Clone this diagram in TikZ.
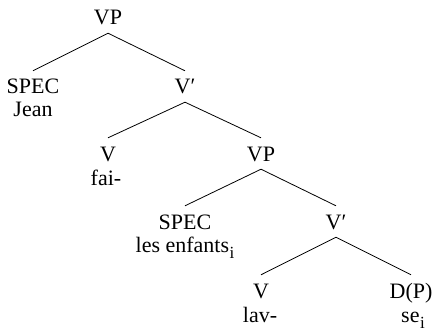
\documentclass[tikz,border=0pt]{standalone}
\usepackage{fontspec}
\setmainfont{Liberation Serif}
\newcommand{\subidx}{\kern0.5pt\raisebox{-6pt}{\fontsize{17}{17}\selectfont i}}
\begin{document}
\begin{tikzpicture}[x=1pt,y=-1pt,
  cat/.style={anchor=base, inner xsep=1pt, inner ysep=8pt, text height=15pt, text depth=0pt, font=\fontsize{22}{24}\selectfont},
  word/.style={anchor=base, inner sep=0pt, font=\fontsize{22}{24}\selectfont},
  branch/.style={line width=0.8pt}]
\useasboundingbox (0,0) rectangle (435,331);
% categories
\node[cat] (vp0)   at (108,25)  {VP};
\node[cat] (spec1) at (33,94)   {SPEC};
\node[cat] (vb1)   at (185,94)  {V\char"2032};
\node[cat] (v1)    at (108,161) {V};
\node[cat] (vp2)   at (261,161) {VP};
\node[cat] (spec2) at (185,229) {SPEC};
\node[cat] (vb2)   at (336,229) {V\char"2032};
\node[cat] (v2)    at (261,298) {V};
\node[cat] (dp)    at (411,298) {D(P)};
% words
\node[word] (jean) at (33,117)  {Jean};
\node[word] (fai)  at (106,185) {fai-};
\node[word] (les)  at (185,252) {les enfants\subidx};
\node[word] (lav)  at (260,322) {lav-};
\node[word] (se)   at (413,322) {se\subidx};
% branches
\draw[branch] (spec1.north) -- (vp0.south) -- (vb1.north);
\draw[branch] (v1.north) -- (vb1.south) -- (vp2.north);
\draw[branch] (spec2.north) -- (vp2.south) -- (vb2.north);
\draw[branch] (v2.north) -- (vb2.south) -- (dp.north);
\end{tikzpicture}
\end{document}
